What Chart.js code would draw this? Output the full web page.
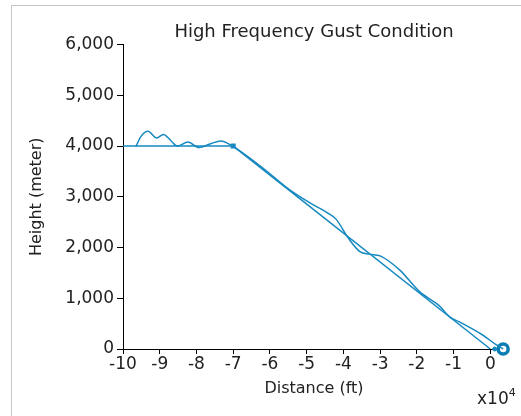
<!DOCTYPE html>
<html>
<head>
<meta charset="utf-8">
<script src="https://cdn.jsdelivr.net/npm/chart.js@4"></script>
<style>
  html, body { margin: 0; padding: 0; background: #fff; overflow: hidden; }
  #wrap { position: relative; width: 521px; height: 416px; }
  #frame { position: absolute; left: 11px; top: 5px; width: 530px; height: 430px; border: 1px solid #c6c6c6; box-sizing: border-box; }
  #chart { position: absolute; left: 0; top: 0; }
  #expo { position: absolute; left: 477px; top: 387px; font: 17px "DejaVu Sans", sans-serif; color: #222; }
  #expo sup { font-size: 11px; position: relative; top: -1px; }
</style>
</head>
<body>
<div id="wrap">
  <div id="frame"></div>
  <canvas id="chart" width="521" height="416"></canvas>
  <div id="expo">x10<sup>4</sup></div>
</div>
<script>
// distance in units of 10^4 ft, height in meters
const planDistance = [-10, -7, 0];
const planHeight = [4000, 4000, 0];

const gustDistance = [-9.65, -9.5, -9.32, -9.08, -8.9, -8.7, -8.53, -8.23, -7.93, -7.6, -7.34, -7.0, -6.27, -5.46, -4.91, -4.4, -4.2, -3.87, -3.55, -3.3, -3.0, -2.47, -1.92, -1.4, -1.1, -0.84, -0.21, 0.17, 0.35];
const gustHeight = [3990, 4200, 4290, 4160, 4230, 4110, 4000, 4080, 3970, 4050, 4100, 3990, 3612, 3138, 2881, 2670, 2560, 2190, 1920, 1870, 1835, 1559, 1125, 860, 630, 533, 276, 79, 0];

const touchdownDistance = [0.12];
const touchdownHeight = [0];
const aircraftDistance = [0.35];
const aircraftHeight = [0];

const xTicks = [-10, -9, -8, -7, -6, -5, -4, -3, -2, -1, 0];
const yTicks = [0, 1000, 2000, 3000, 4000, 5000, 6000];

const lineColor = '#1689c0';
const tickFont = { family: 'DejaVu Sans', size: 17 };

function toPoints(xs, ys) {
    return xs.map((x, i) => ({ x: x, y: ys[i] }));
}

new Chart(document.getElementById('chart').getContext('2d'), {
    type: 'scatter',
    data: {
        datasets: [
            {
                label: 'Planned',
                data: toPoints(planDistance, planHeight),
                showLine: true,
                borderColor: lineColor,
                backgroundColor: lineColor,
                borderWidth: 1.5,
                pointStyle: 'rect',
                pointRadius: [0, 2.5, 0],
                clip: false
            },
            {
                label: 'Gust',
                data: toPoints(gustDistance, gustHeight),
                showLine: true,
                borderColor: lineColor,
                borderWidth: 1.5,
                pointRadius: 0,
                cubicInterpolationMode: 'monotone',
                clip: false
            },
            {
                label: 'Touchdown',
                data: toPoints(touchdownDistance, touchdownHeight),
                backgroundColor: lineColor,
                borderColor: lineColor,
                pointRadius: 2,
                clip: false
            },
            {
                label: 'Aircraft',
                data: toPoints(aircraftDistance, aircraftHeight),
                backgroundColor: '#ffffff',
                borderColor: '#0b7db5',
                borderWidth: 3.5,
                pointRadius: 5,
                clip: false
            }
        ]
    },
    options: {
        responsive: false,
        animation: false,
        layout: { padding: { left: 0, right: 16, top: 0, bottom: 0 } },
        plugins: {
            legend: { display: false },
            tooltip: { enabled: false },
            title: {
                display: true,
                fullSize: false,
                text: 'High Frequency Gust Condition',
                color: '#222',
                font: { family: 'DejaVu Sans', size: 18, weight: 'normal' },
                padding: { top: 22, bottom: 1 }
            }
        },
        scales: {
            x: {
                type: 'linear',
                min: -10,
                max: 0.4,
                afterBuildTicks: s => { s.ticks = xTicks.map(v => ({ value: v })); },
                afterFit: s => { s.height = 67; },
                ticks: { color: '#222', font: tickFont, padding: 0, maxRotation: 0 },
                grid: { display: true, drawOnChartArea: false, drawTicks: true, tickLength: 5, color: '#000' },
                border: { display: true, color: '#000', width: 1 },
                title: { display: true, text: 'Distance (ft)', color: '#222', font: { family: 'DejaVu Sans', size: 16 }, padding: { top: 0, bottom: 18 } }
            },
            y: {
                type: 'linear',
                min: 0,
                max: 6000,
                afterBuildTicks: s => { s.ticks = yTicks.map(v => ({ value: v })); },
                afterFit: s => { s.width = 123; },
                ticks: { color: '#222', font: tickFont, padding: 3, callback: v => v.toLocaleString('en-US') },
                grid: { display: true, drawOnChartArea: false, drawTicks: true, tickLength: 6, color: '#000' },
                border: { display: true, color: '#000', width: 1 },
                title: { display: true, text: 'Height (meter)', color: '#222', font: { family: 'DejaVu Sans', size: 16 }, padding: { top: 27, bottom: 0 } }
            }
        }
    }
});
</script>
</body>
</html>
